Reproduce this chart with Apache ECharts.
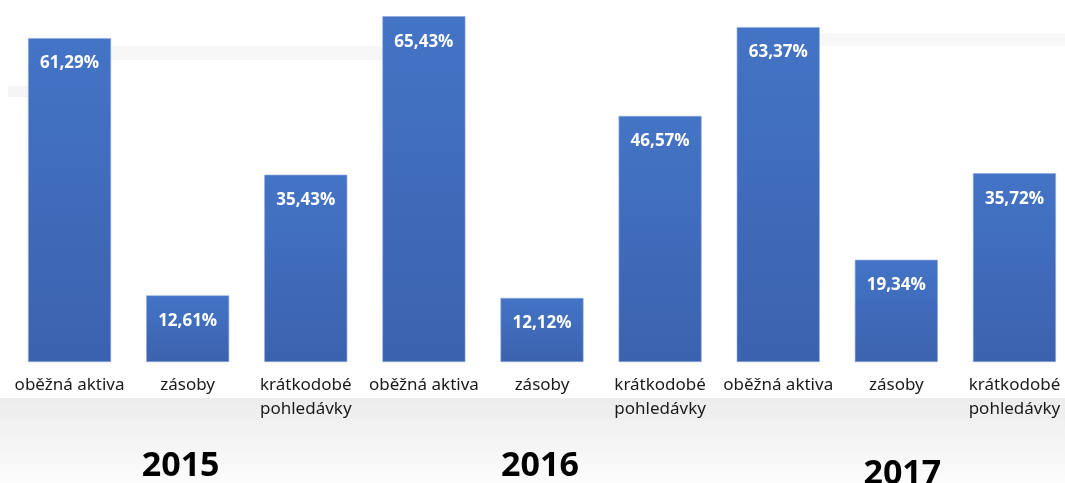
<!DOCTYPE html>
<html>
<head>
<meta charset="utf-8">
<script src="https://cdn.jsdelivr.net/npm/echarts@6/dist/echarts.min.js"></script>
<style>
html,body{margin:0;padding:0;background:#fff;}
#c{width:1065px;height:483px;}
</style>
</head>
<body>
<div id="c"></div>
<script>
var categories = ['oběžná aktiva','zásoby','krátkodobé\npohledávky','oběžná aktiva','zásoby','krátkodobé\npohledávky','oběžná aktiva','zásoby','krátkodobé\npohledávky'];
var values = [61.29, 12.61, 35.43, 65.43, 12.12, 46.57, 63.37, 19.34, 35.72];
var years = ['2015','2016','2017'];

var chart = echarts.init(document.getElementById('c'));
var barColor = new echarts.graphic.LinearGradient(0,0,0,1,[
  {offset:0,color:'#4474c6'},{offset:1,color:'#3b62ae'}
]);
chart.setOption({
  backgroundColor:'#ffffff',
  animation:false,
  graphic:[
    {type:'rect',z:-10,shape:{x:0,y:398,width:1065,height:85},style:{fill:new echarts.graphic.LinearGradient(0,0,0,1,[{offset:0,color:'#ececec'},{offset:1,color:'#fcfcfc'}])}},
    {type:'rect',z:-10,shape:{x:111,y:46,width:273,height:14},style:{fill:'#f7f7f7'}},
    {type:'rect',z:-10,shape:{x:8,y:86,width:20,height:11},style:{fill:'#f5f5f5'}},
    {type:'rect',z:-10,shape:{x:820,y:33,width:245,height:13},style:{fill:'#f7f7f7'}}
  ],
  grid:{left:10.5,top:0,width:1063,height:362,containLabel:false,outerBoundsMode:'none'},
  xAxis:[{
    type:'category',
    data:categories,
    axisLine:{show:false},
    axisTick:{show:false},
    axisLabel:{
      interval:0,
      margin:11,
      color:'#1a1a1a',
      fontFamily:'Noto Sans',
      fontSize:17,
      lineHeight:24
    }
  },{
    type:'category',
    data:[
      {value:years[0],textStyle:{padding:[0,14,0,0]}},
      {value:years[1],textStyle:{padding:[0,4,0,0]}},
      {value:years[2],textStyle:{padding:[8,0,0,12]}}
    ],
    position:'bottom',
    axisLine:{show:false},
    axisTick:{show:false},
    axisLabel:{
      interval:0,
      margin:87,
      color:'#000',
      fontFamily:'Open Sans',
      fontWeight:'bold',
      fontSize:34,
      lineHeight:34
    }
  }],
  yAxis:{type:'value',min:0,max:68.5,show:false,splitLine:{show:false}},
  series:[{
    type:'bar',
    xAxisIndex:0,
    data:values,
    barWidth:83,
    itemStyle:{color:barColor,borderColor:'#8eaadb',borderWidth:0.6},
    label:{
      show:true,
      position:'insideTop',
      distance:17,
      color:'#ffffff',
      fontWeight:'bold',
      fontFamily:'Open Sans',
      fontSize:17,
      formatter:function(p){return p.value.toFixed(2).replace('.',',')+'%';}
    }
  }]
});
</script>
</body>
</html>
